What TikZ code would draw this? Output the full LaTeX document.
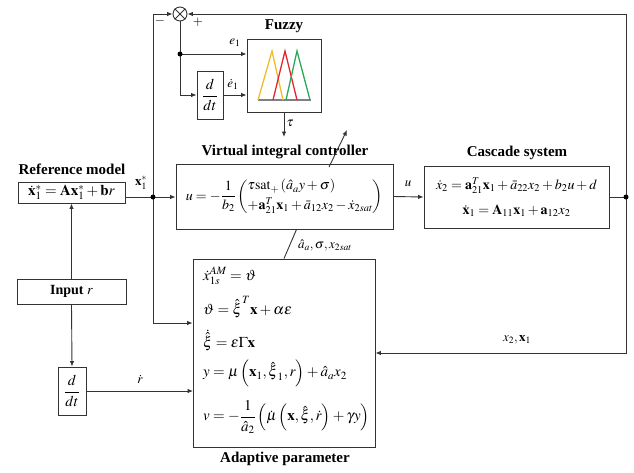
\documentclass[tikz,border=0pt]{standalone}
\usepackage{amsmath}
\usepackage{mathptmx}
\usepackage{fontspec}
\setmainfont{Liberation Serif}
\usetikzlibrary{arrows.meta}
\definecolor{fyel}{RGB}{238,190,40}
\definecolor{fred}{RGB}{225,40,50}
\definecolor{fgrn}{RGB}{40,170,90}
\begin{document}
\begin{tikzpicture}[x=1pt,y=-1pt,
  ln/.style={line width=0.9pt, draw=black!80},
  arr/.style={ln, -{Latex[length=5.5pt,width=4.5pt]}},
  blk/.style={draw=black!80, line width=0.9pt, inner sep=0pt, rectangle},
  ttl/.style={font=\fontsize{15}{17}\selectfont\bfseries, inner sep=0pt},
  eq/.style={font=\fontsize{15}{17}\selectfont, inner sep=0pt},
  lbl/.style={font=\fontsize{13}{15}\selectfont, inner sep=0pt},
  jdot/.style={circle, fill=black, inner sep=0pt, minimum size=5pt}]
\useasboundingbox (0,0) rectangle (634,472);

% blocks
\node[blk, minimum width=107pt, minimum height=21pt, font=\fontsize{15}{17}\selectfont] (ref) at (71.5,192.5) {$\dot{\mathbf x}^*_1=\mathbf A\mathbf x^*_1+\mathbf b r$};
\node[ttl] (reft) at (72,169) {Reference model};
\node[blk, minimum width=109pt, minimum height=25pt, font=\fontsize{14}{16}\selectfont\bfseries] (inp) at (71.5,291.5) {Input $r$};
\node[blk, minimum width=28pt, minimum height=48pt, font=\fontsize{15}{17}\selectfont] (dd2) at (72,391) {$\dfrac{d}{dt}$};
\node[blk, minimum width=26pt, minimum height=48pt, font=\fontsize{15}{17}\selectfont] (dd1) at (210,95) {$\dfrac{d}{dt}$};
\node[blk, minimum width=74pt, minimum height=73pt] (fuz) at (284,75.5) {};
\node[ttl] (fuzt) at (284,26) {Fuzzy};
\node[blk, minimum width=217pt, minimum height=65pt, font=\fontsize{14}{16}\selectfont] (ctrl) at (284.5,196.5)
 {$u=-\dfrac{1}{b_2}\left(\begin{array}{@{}l@{}}\tau\mathrm{sat}_+\left(\hat a_a y+\sigma\right)\\[3pt]
 +\mathbf a_{21}^T\mathbf x_1+\bar a_{12}x_2-\dot x_{2sat}\end{array}\right)$};
\node[ttl] (ctrlt) at (285,152) {Virtual integral controller};
\node[blk, minimum width=185pt, minimum height=62pt, align=center, font=\fontsize{14}{25}\selectfont] (casc) at (516.5,197)
 {$\dot x_2=\mathbf a_{21}^T\mathbf x_1+\bar a_{22}x_2+b_2u+d$\\ $\dot{\mathbf x}_1=\mathbf A_{11}\mathbf x_1+\mathbf a_{12}x_2$};
\node[ttl] (casct) at (517,153) {Cascade system};
\node[blk, minimum width=182pt, minimum height=188pt] (adapt) at (284,353) {};
\node[ttl] (adaptt) at (285,459) {Adaptive parameter};

% adaptive equations
\node[eq, anchor=west] (e1) at (203,276) {$\dot x^{AM}_{1s}=\vartheta$};
\node[eq, anchor=west] (e2) at (203,307) {$\vartheta=\hat{\boldsymbol\xi}^T\mathbf x+\alpha\varepsilon$};
\node[eq, anchor=west] (e3) at (203,340) {$\dot{\hat{\boldsymbol\xi}}=\varepsilon\boldsymbol\Gamma\mathbf x$};
\node[eq, anchor=west] (e4) at (203,373) {$y=\mu\left(\mathbf x_1,\hat{\boldsymbol\xi}_1,r\right)+\hat a_a x_2$};
\node[eq, anchor=west] (e5) at (203,417) {$v=-\dfrac{1}{\hat a_2}\left(\dot\mu\left(\mathbf x,\hat{\boldsymbol\xi},\dot r\right)+\gamma y\right)$};

% summation
\node[draw=black!80, line width=0.9pt, circle, minimum size=14pt, inner sep=0pt] (sum) at (180,14) {};
\draw[ln] (sum.north west) -- (sum.south east) (sum.north east) -- (sum.south west);
\node[lbl] (minus) at (160,21) {$-$};
\node[lbl] (plus) at (198,22) {$+$};

% fuzzy membership functions
\draw[gray, line width=1.3pt] (258,100) -- (311,100);
\draw[fyel, line width=1.3pt] (258,100) -- (272,51) -- (283,100);
\draw[fred, line width=1.3pt] (273,100) -- (285,51) -- (297,100);
\draw[fgrn, line width=1.3pt] (286,100) -- (297,51) -- (310,100);

% junctions
\coordinate (jx) at (153,197);
\coordinate (c1) at (153,323);
\coordinate (jf) at (180,54);
\coordinate (jr) at (626,197);
\coordinate (tr) at (626,14);
\coordinate (br) at (626,353);
\coordinate (tauend) at (284,137);
\coordinate (va) at (329,167);
\coordinate (vb) at (347,130);
\coordinate (rin) at (193,391);

% connectors
\draw[ln] (ref.east |- jx) -- (jx);
\draw[arr] (jx) -- (ctrl.west |- jx);
\draw[arr] (jx) |- (sum.west);
\draw[arr] (jx) -- (c1) -- (c1 -| adapt.west);
\draw[ln] (sum.south) -- (jf);
\draw[arr] (jf) -- (jf -| fuz.west);
\draw[arr] (jf) |- (dd1.west);
\draw[arr] (dd1.east) -- (dd1.east -| fuz.west);
\draw[arr] (fuz.south) -- (tauend);
\draw[arr] (va) -- (vb);
\draw[arr] (ctrl.east) -- (casc.west);
\draw[ln] (casc.east) -- (jr);
\draw[arr] (jr) -- (tr) -- (sum.east);
\draw[arr] (jr) -- (br) -- (adapt.east);
\draw[ln] (adapt.north) -- ([xshift=12pt]ctrl.south);
\draw[arr] (inp.north) -- (ref.south);
\draw[arr] (inp.south) -- (dd2.north);
\draw[arr] (dd2.east) -- (rin);
\node[jdot] (d1) at (jx) {};
\node[jdot] (d2) at (jf) {};
\node[jdot] (d3) at (jr) {};

% labels
\node[lbl] (le1) at (235,43) {$e_1$};
\node[lbl] (le2) at (233,84) {$\dot e_1$};
\node[lbl] (ltau) at (290,123) {$\tau$};
\node[lbl] (lx1) at (141,183) {$\mathbf x^*_1$};
\node[lbl] (lu) at (408,184) {$u$};
\node[lbl] (lx2) at (517,340) {$x_2,\mathbf x_1$};
\node[lbl] (lr) at (140,379) {$\dot r$};
\node[lbl] (lpar) at (325,245) {$\hat a_a,\sigma,x_{2sat}$};
\end{tikzpicture}
\end{document}
